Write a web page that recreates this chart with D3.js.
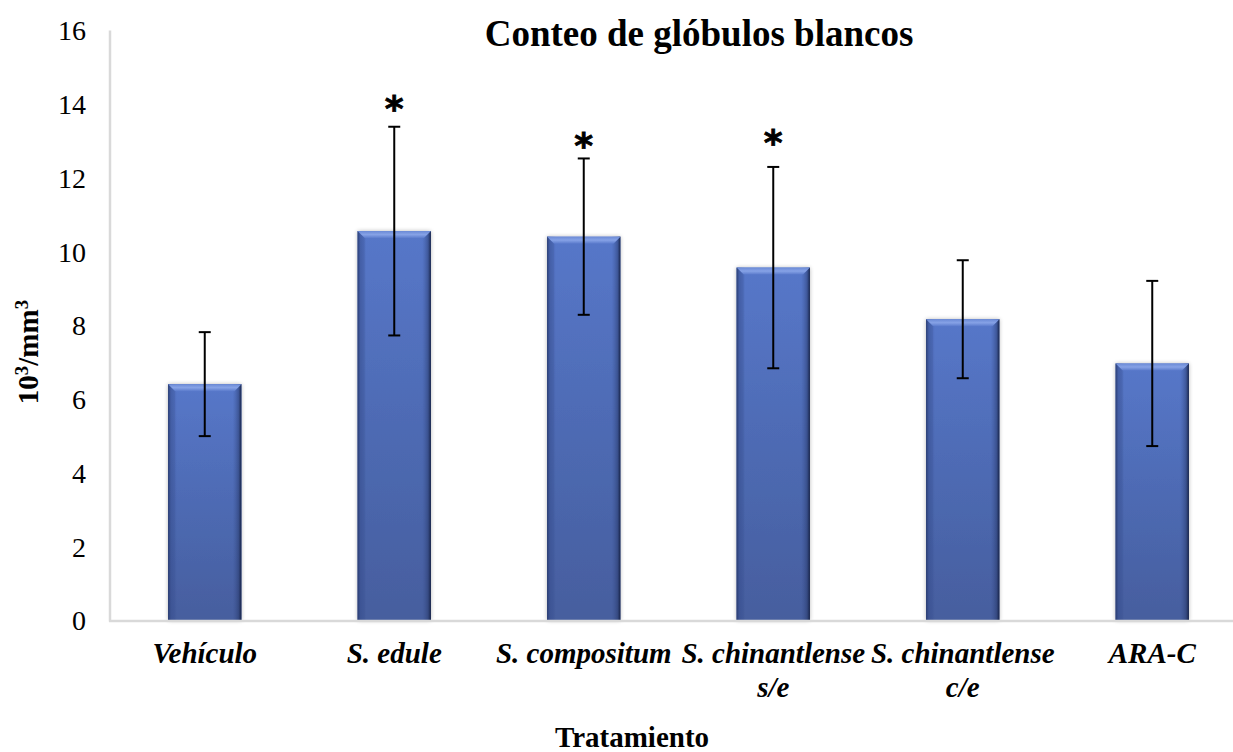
<!DOCTYPE html>
<html>
<head>
<meta charset="utf-8">
<script src="https://cdn.jsdelivr.net/npm/d3@7"></script>
<style>
  html, body { margin: 0; padding: 0; background: #fff; }
  svg { display: block; }
  text { font-family: "Liberation Serif", "Times New Roman", serif; fill: #000; }
</style>
</head>
<body>
<svg id="chart" width="1233" height="752"></svg>
<script>
// White blood cell count per treatment group (10^3/mm^3), mean ± SD
const categories = [
  ["Vehículo"],
  ["S. edule"],
  ["S. compositum"],
  ["S. chinantlense", "s/e"],
  ["S. chinantlense", "c/e"],
  ["ARA-C"]
];
const means = [6.41, 10.56, 10.41, 9.57, 8.17, 6.97];
const sds   = [1.41, 2.83, 2.12, 2.73, 1.60, 2.24];
// Groups marked as significant, with the level at which the asterisk sits
const significant = [false, true, true, true, false, false];
const markLevel   = [null, 14.12, 13.12, 13.2, null, null];
const yTicks = [0, 2, 4, 6, 8, 10, 12, 14, 16];

const svg = d3.select("#chart");
const plot = { left: 110, right: 1247, top: 30.5, bottom: 620.5 };

const x = d3.scaleBand()
  .domain(categories.map((c, i) => i))
  .range([plot.left, plot.right])
  .padding(0);
const y = d3.scaleLinear().domain([0, 16]).range([plot.bottom, plot.top]);
const barW = x.bandwidth() * 0.387;

// Gradients and shadow used by the bevelled bars
const defs = svg.append("defs");
const vg = defs.append("linearGradient").attr("id", "barFill")
  .attr("x1", 0).attr("y1", 0).attr("x2", 0).attr("y2", 1);
vg.append("stop").attr("offset", "0%").attr("stop-color", "#5677c9");
vg.append("stop").attr("offset", "100%").attr("stop-color", "#465e9e");

const hg = defs.append("linearGradient").attr("id", "barEdges")
  .attr("x1", 0).attr("y1", 0).attr("x2", 1).attr("y2", 0);
hg.append("stop").attr("offset", "0%").attr("stop-color", "#1c2a55").attr("stop-opacity", 0.85);
hg.append("stop").attr("offset", "4%").attr("stop-color", "#2d427e").attr("stop-opacity", 0.35);
hg.append("stop").attr("offset", "12%").attr("stop-color", "#2d427e").attr("stop-opacity", 0);
hg.append("stop").attr("offset", "88%").attr("stop-color", "#2d427e").attr("stop-opacity", 0);
hg.append("stop").attr("offset", "96%").attr("stop-color", "#1c2a55").attr("stop-opacity", 0.4);
hg.append("stop").attr("offset", "100%").attr("stop-color", "#101a3a").attr("stop-opacity", 0.9);

const bevel = defs.append("linearGradient").attr("id", "bevelFill")
  .attr("x1", 0).attr("y1", 0).attr("x2", 0).attr("y2", 1);
bevel.append("stop").attr("offset", "0%").attr("stop-color", "#6b8ad6");
bevel.append("stop").attr("offset", "50%").attr("stop-color", "#86a2e6");
bevel.append("stop").attr("offset", "100%").attr("stop-color", "#5b7bcc");

const shadow = defs.append("filter").attr("id", "barShadow")
  .attr("x", "-20%").attr("y", "-5%").attr("width", "140%").attr("height", "110%");
shadow.append("feGaussianBlur").attr("in", "SourceAlpha").attr("stdDeviation", 2.2).attr("result", "b");
shadow.append("feComponentTransfer").attr("in", "b").attr("result", "s")
  .append("feFuncA").attr("type", "linear").attr("slope", 0.28);
const merge = shadow.append("feMerge");
merge.append("feMergeNode").attr("in", "s");
merge.append("feMergeNode").attr("in", "SourceGraphic");

// Axis lines
svg.append("line")
  .attr("x1", plot.left).attr("x2", plot.left)
  .attr("y1", y(16)).attr("y2", plot.bottom + 1)
  .attr("stroke", "#d9d9d9").attr("stroke-width", 2.5);

// Y tick labels
svg.append("g").selectAll("text").data(yTicks).join("text")
  .attr("x", 86).attr("y", d => y(d)).attr("dy", "0.35em")
  .attr("text-anchor", "end")
  .style("font-size", "28px")
  .text(d => d);

// Bars
const bars = svg.append("g").selectAll("g").data(means).join("g")
  .attr("transform", (d, i) => `translate(${x(i) + x.bandwidth() / 2 - barW / 2},${y(d)})`);
bars.append("rect")
  .attr("width", barW).attr("height", d => y(0) - y(d))
  .attr("fill", "url(#barFill)")
  .attr("filter", "url(#barShadow)");
bars.append("rect")
  .attr("width", barW).attr("height", d => y(0) - y(d))
  .attr("fill", "url(#barEdges)");
const bv = 7;
bars.append("path")
  .attr("d", `M0,0 L${barW},0 L${barW - bv},${bv} L${bv},${bv} Z`)
  .attr("fill", "url(#bevelFill)");
bars.append("path")
  .attr("d", d => `M0,0 L${bv},${bv} L${bv},${y(0) - y(d)} L0,${y(0) - y(d)} Z`)
  .attr("fill", "#3a5296").attr("opacity", 0.25);

// X axis baseline
svg.append("line")
  .attr("x1", plot.left - 1).attr("x2", 1233)
  .attr("y1", plot.bottom + 0.5).attr("y2", plot.bottom + 0.5)
  .attr("stroke", "#d9d9d9").attr("stroke-width", 2.5);

// Error bars (mean ± SD)
const cap = 6;
const err = svg.append("g").attr("stroke", "#000").attr("stroke-width", 2)
  .selectAll("g").data(means).join("g");
err.append("line")
  .attr("x1", (d, i) => x(i) + x.bandwidth() / 2).attr("x2", (d, i) => x(i) + x.bandwidth() / 2)
  .attr("y1", (d, i) => y(d + sds[i])).attr("y2", (d, i) => y(d - sds[i]));
err.append("line")
  .attr("x1", (d, i) => x(i) + x.bandwidth() / 2 - cap).attr("x2", (d, i) => x(i) + x.bandwidth() / 2 + cap)
  .attr("y1", (d, i) => y(d + sds[i])).attr("y2", (d, i) => y(d + sds[i]));
err.append("line")
  .attr("x1", (d, i) => x(i) + x.bandwidth() / 2 - cap).attr("x2", (d, i) => x(i) + x.bandwidth() / 2 + cap)
  .attr("y1", (d, i) => y(d - sds[i])).attr("y2", (d, i) => y(d - sds[i]));

// Significance asterisks (glyph centred on its level)
svg.append("g").selectAll("text")
  .data(markLevel.map((m, i) => ({ m, i })).filter(d => significant[d.i]))
  .join("text")
  .attr("x", d => x(d.i) + x.bandwidth() / 2)
  .attr("y", d => y(d.m))
  .attr("dy", "0.58em")
  .attr("text-anchor", "middle")
  .attr("stroke", "#000").attr("stroke-width", 0.8)
  .style("font-family", "'DejaVu Sans', sans-serif")
  .style("font-weight", "bold")
  .style("font-size", "36px")
  .text("*");

// Category labels
const cl = svg.append("g").selectAll("text").data(categories).join("text")
  .attr("text-anchor", "middle")
  .style("font-size", "29px").style("font-weight", "bold").style("font-style", "italic");
cl.each(function (lines, i) {
  d3.select(this).selectAll("tspan").data(lines).join("tspan")
    .attr("x", x(i) + x.bandwidth() / 2)
    .attr("y", (l, j) => 663 + j * 34)
    .text(l => l);
});

// Title and axis titles
svg.append("text")
  .attr("x", 699).attr("y", 46).attr("text-anchor", "middle")
  .style("font-size", "37px").style("font-weight", "bold")
  .text("Conteo de glóbulos blancos");

svg.append("text")
  .attr("x", 632).attr("y", 747).attr("text-anchor", "middle")
  .style("font-size", "29px").style("font-weight", "bold")
  .text("Tratamiento");

const yl = svg.append("text")
  .attr("transform", "translate(38,352) rotate(-90)")
  .attr("text-anchor", "middle")
  .style("font-size", "29px").style("font-weight", "bold");
yl.append("tspan").text("10");
yl.append("tspan").attr("dy", -10).style("font-size", "19px").text("3");
yl.append("tspan").attr("dy", 10).text("/mm");
yl.append("tspan").attr("dy", -10).style("font-size", "19px").text("3");
</script>
</body>
</html>
